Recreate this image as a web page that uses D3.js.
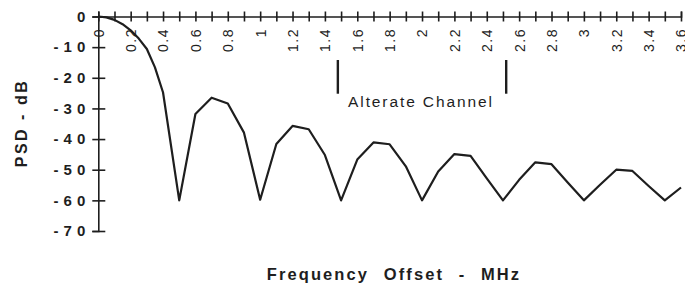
<!DOCTYPE html>
<html>
<head>
<meta charset="utf-8">
<script src="https://cdn.jsdelivr.net/npm/d3@7"></script>
<style>
  body { margin: 0; background: #fff; }
  svg { display: block; font-family: "Liberation Sans", Arial, Helvetica, sans-serif; }
</style>
</head>
<body>
<svg id="chart" width="685" height="285"></svg>
<script>
// PSD curve (MHz, dB)
const freq = [0, 0.05, 0.1, 0.15, 0.2, 0.25, 0.3, 0.35, 0.4, 0.5,
  0.6, 0.7, 0.8, 0.9, 1.0, 1.1, 1.2, 1.3, 1.4, 1.5,
  1.6, 1.7, 1.8, 1.9, 2.0, 2.1, 2.2, 2.3, 2.4, 2.5,
  2.6, 2.7, 2.8, 2.9, 3.0, 3.1, 3.2, 3.3, 3.4, 3.5, 3.6];
const psd = [0, -0.3, -1.1, -2.5, -4.5, -7.2, -10.6, -16.6, -24.8, -60,
  -31.8, -26.5, -28.4, -37.9, -59.8, -41.6, -35.7, -36.8, -45.2, -60,
  -46.7, -41.1, -41.7, -48.9, -60, -50.6, -44.9, -45.5, -52.8, -60,
  -53.3, -47.6, -48.2, -54.2, -60, -54.9, -50, -50.4, -55.3, -60, -55.8];

const xMinorTicks = d3.range(0, 37).map(i => i / 10);
const xTickValues = [0, 0.2, 0.4, 0.6, 0.8, 1, 1.2, 1.4, 1.6, 1.8, 2, 2.2, 2.4, 2.6, 2.8, 3, 3.2, 3.4, 3.6];
const xTickLabels = ['0', '0.2', '0.4', '0.6', '0.8', '1', '1.2', '1.4', '1.6', '1.8', '2', '2.2', '2.4', '2.6', '2.8', '3', '3.2', '3.4', '3.6'];
const yTickValues = [0, -10, -20, -30, -40, -50, -60, -70];
const yTickLabels = ['0', '-10', '-20', '-30', '-40', '-50', '-60', '-70'];

// alternate channel markers
const altMarks = [1.48, 2.52];
const altSpan = [-14.2, -25.2];
const altLabel = 'Alterate Channel';

const svg = d3.select('#chart');
const ink = '#1e1e1e';

const x = d3.scaleLinear().domain([0, 3.6]).range([98.3, 681]);
const y = d3.scaleLinear().domain([0, -70]).range([16.5, 231]);

// Y axis
const yAxis = svg.append('g')
  .attr('transform', `translate(${x(0)},0)`)
  .call(d3.axisLeft(y)
    .tickValues(yTickValues)
    .tickSize(6)
    .tickFormat((d, i) => yTickLabels[i]));

yAxis.select('.domain').attr('stroke', ink).attr('stroke-width', 1.6);
yAxis.selectAll('.tick line')
  .attr('x1', -6).attr('x2', 7)
  .attr('stroke', ink).attr('stroke-width', 1.6);
yAxis.selectAll('.tick text')
  .attr('x', -8)
  .attr('fill', ink)
  .style('font-size', '15px')
  .style('font-weight', 'bold')
  .style('letter-spacing', '5px');

// X axis (at the top, 0 dB)
const xAxis = svg.append('g')
  .attr('transform', `translate(0,${y(0)})`)
  .call(d3.axisTop(x)
    .tickValues(xMinorTicks)
    .tickSize(5)
    .tickFormat(''));

xAxis.select('.domain').attr('stroke', ink).attr('stroke-width', 1.6);
xAxis.selectAll('.tick line')
  .attr('y1', 5).attr('y2', -5)
  .attr('stroke', ink).attr('stroke-width', 1.6);

const xLabels = svg.append('g')
  .attr('transform', `translate(0,${y(0)})`)
  .call(d3.axisBottom(x)
    .tickValues(xTickValues)
    .tickSize(0)
    .tickFormat((d, i) => xTickLabels[i]));

xLabels.select('.domain').remove();
xLabels.selectAll('.tick text')
  .attr('transform', 'rotate(-90)')
  .attr('x', -11.5)
  .attr('y', 0)
  .attr('dy', '0.35em')
  .attr('text-anchor', 'end')
  .attr('fill', ink)
  .style('font-size', '14px')
  .style('letter-spacing', '1.5px');

// PSD curve
const line = d3.line()
  .x((d, i) => x(freq[i]))
  .y(d => y(d));

svg.append('path')
  .datum(psd)
  .attr('fill', 'none')
  .attr('stroke', ink)
  .attr('stroke-width', 2.2)
  .attr('stroke-linejoin', 'round')
  .attr('d', line);

// alternate channel annotation
svg.append('g')
  .selectAll('line')
  .data(altMarks)
  .join('line')
  .attr('x1', d => x(d)).attr('x2', d => x(d))
  .attr('y1', y(altSpan[0])).attr('y2', y(altSpan[1]))
  .attr('stroke', ink)
  .attr('stroke-width', 2.4);

svg.append('text')
  .attr('x', x(1.543))
  .attr('y', y(-29.4))
  .attr('fill', ink)
  .style('font-size', '15.5px')
  .style('letter-spacing', '1.9px')
  .text(altLabel);

// axis titles
svg.append('text')
  .attr('transform', 'translate(27,123) rotate(-90)')
  .attr('text-anchor', 'middle')
  .attr('fill', ink)
  .style('font-size', '16px')
  .style('font-weight', 'bold')
  .style('letter-spacing', '2.5px')
  .text('PSD - dB');

svg.append('text')
  .attr('x', 394)
  .attr('y', 280)
  .attr('text-anchor', 'middle')
  .attr('fill', ink)
  .style('font-size', '16.5px')
  .style('font-weight', 'bold')
  .style('letter-spacing', '2.1px')
  .style('word-spacing', '8px')
  .text('Frequency Offset - MHz');
</script>
</body>
</html>
